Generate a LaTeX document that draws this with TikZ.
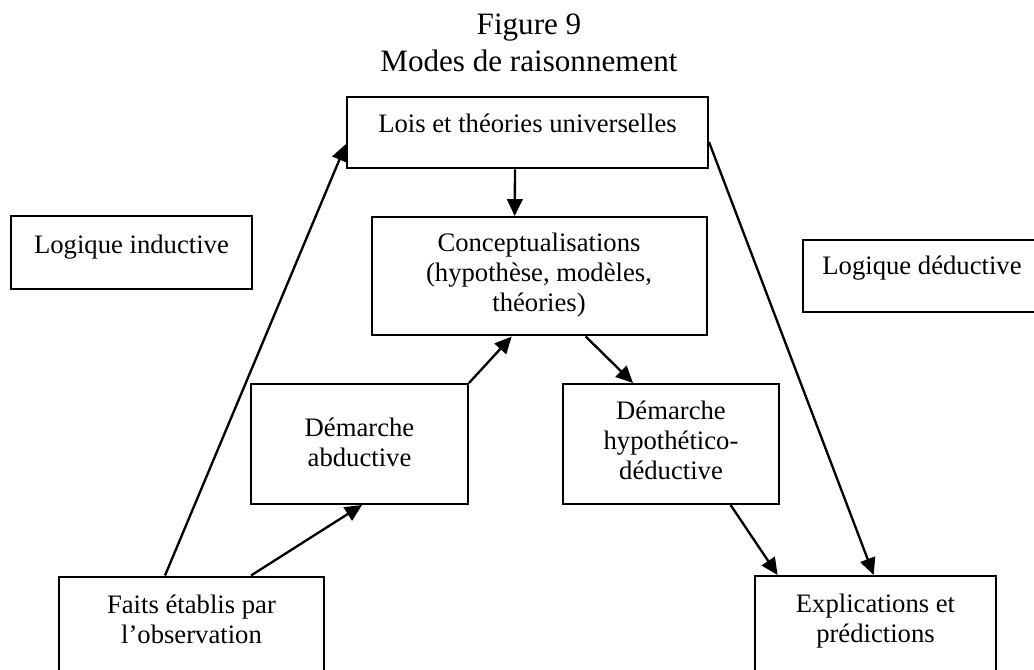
\documentclass[tikz,border=0pt]{standalone}
\usepackage{fontspec}
\setmainfont{Liberation Serif}
\usetikzlibrary{arrows.meta,calc,fit}
\begin{document}
\begin{tikzpicture}[x=0.45pt,y=-0.45pt,
  box/.style={draw, line width=0.9pt, inner sep=0pt},
  txt/.style={anchor=north, align=center, inner sep=0pt, font=\fontsize{12}{13.5}\selectfont},
  arr/.style={line width=1.05pt, -{Triangle[length=7.6pt,width=7pt]}}]
\useasboundingbox (0,0) rectangle (1034,670);
% boxes
\node[box, fit={(347,96.7) (708,168.3)}] (lois) {};
\node[box, fit={(11,216) (252,289)}] (ind) {};
\node[box, fit={(371.7,217) (706.7,335.5)}] (concept) {};
\node[box, fit={(803,240) (1041,312)}] (ded) {};
\node[box, fit={(251,384) (468,504)}] (abd) {};
\node[box, fit={(563,384) (779,504)}] (hd) {};
\node[box, fit={(59,576.5) (324,700)}] (faits) {};
\node[box, fit={(755,576) (996,700)}] (expl) {};
% texts
\node[txt, font=\fontsize{14}{16.9}\selectfont] (title) at (529,7.7) {\strut Figure 9\\\strut Modes de raisonnement};
\node[txt] (loist) at (527.5,110.7) {\strut Lois et théories universelles};
\node[txt] (indt) at (131.5,231.7) {\strut Logique inductive};
\node[txt] (conceptt) at (539,230) {\strut Conceptualisations\\\strut (hypothèse, modèles,\\\strut théories)};
\node[txt] (dedt) at (922,253.3) {\strut Logique déductive};
\node[txt] (abdt) at (359.5,415) {\strut Démarche\\\strut abductive};
\node[txt] (hdt) at (671,398.3) {\strut Démarche\\\strut hypothético-\\\strut déductive};
\node[txt] (faitst) at (191.5,592) {\strut Faits établis par\\\strut l’observation};
\node[txt] (explt) at (875.5,590.7) {\strut Explications et\\\strut prédictions};
% arrows
\draw[arr] ($(faits.north west)+(107,0)$) -- ($(lois.north west)+(0,48.3)$);
\draw[arr] ($(faits.north west)+(193,0)$) -- ($(abd.south west)+(112,0)$);
\draw[arr] (abd.north east) -- ($(concept.south west)+(141,0)$);
\draw[arr] ($(lois.south west)+(169,0)$) -- ($(concept.north west)+(144,0)$);
\draw[arr] ($(concept.south west)+(215,0)$) -- ($(hd.north west)+(71,0)$);
\draw[arr] ($(hd.south west)+(168.6,0)$) -- ($(expl.north west)+(23.6,0)$);
\draw[arr] ($(lois.north east)+(0,46.3)$) -- ($(expl.north west)+(119.7,0)$);
\end{tikzpicture}
\end{document}
